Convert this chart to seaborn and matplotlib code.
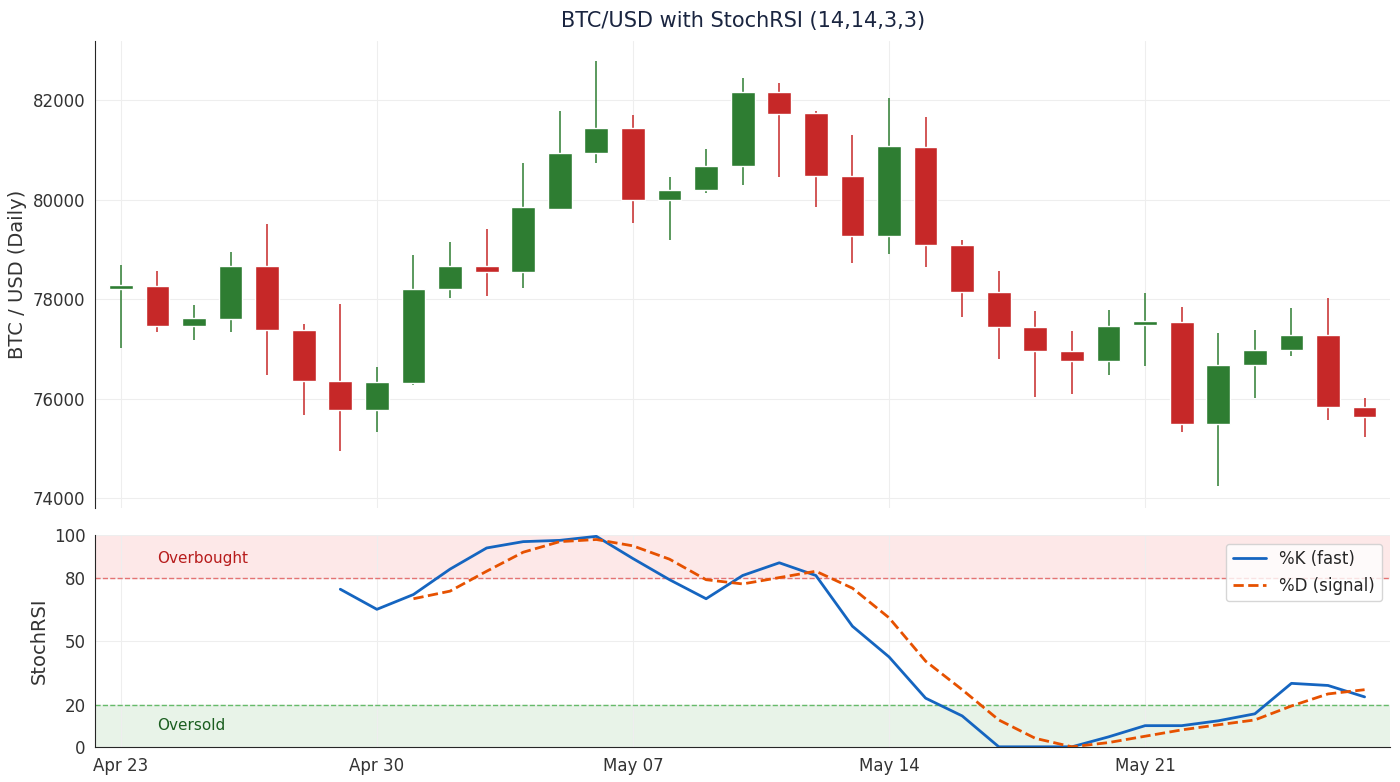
import pandas as pd
import numpy as np
import matplotlib.pyplot as plt
import seaborn as sns

dates = pd.date_range('2025-04-23', periods=35, freq='D')
opens = [78200, 78260, 77460, 77600, 78660, 77380, 76350, 75770, 76310, 78200, 78660, 78540,
         79810, 80950, 81440, 80000, 80190, 80670, 82160, 81740, 80470, 79270, 81060, 79090,
         78140, 77440, 76960, 76760, 77480, 77540, 75490, 76670, 76970, 77280, 75830]
closes = [78280, 77460, 77620, 78660, 77380, 76350, 75770, 76330, 78200, 78660, 78540, 79850,
          80950, 81440, 80000, 80190, 80670, 82160, 81720, 80470, 79270, 81080, 79090, 78140,
          77440, 76960, 76760, 77460, 77560, 75490, 76670, 76970, 77280, 75830, 75630]
highs = [78680, 78560, 77880, 78950, 79510, 77500, 77900, 76630, 78900, 79150, 79410, 80750,
         81780, 82800, 81700, 80450, 81030, 82440, 82340, 81780, 81300, 82040, 81660, 79190,
         78560, 77760, 77360, 77780, 78120, 77840, 77320, 77380, 77820, 78020, 76010]
lows = [77020, 77340, 77180, 77340, 76470, 75670, 74940, 75330, 76270, 78020, 78060, 78220,
        79790, 80750, 79530, 79200, 80130, 80290, 80450, 79850, 78720, 78920, 78640, 77640,
        76790, 76030, 76090, 76470, 76650, 75330, 74240, 76010, 76850, 75570, 75230]
k_fast = [np.nan] * 6 + [74.5, 65, 72, 84, 94, 97, 97.6, 99.5, 89, 79, 70, 81, 87, 81, 57, 42.5,
                         23, 14.6, 0, 0, 0, 4.7, 10, 10, 12.3, 15.6, 30, 29, 23.6]
d_signal = [np.nan] * 8 + [70, 73.6, 83, 92, 97, 98, 95, 88.7, 79, 77, 80, 83, 75, 61, 40.5,
                           27, 12.7, 4, 0, 2, 5, 8, 10.4, 12.7, 19.3, 25, 27]

up_c, dn_c = '#2e7d32', '#c62828'
sns.set_style('white')
fig, (ax, ax2) = plt.subplots(2, 1, figsize=(14, 7.82), dpi=100, sharex=True,
                              gridspec_kw={'height_ratios': [2.21, 1], 'hspace': 0.08})
fig.subplots_adjust(left=0.068, right=0.993, top=0.948, bottom=0.045)

x = np.arange(len(dates))
df = pd.DataFrame({'x': x, 'o': opens, 'c': closes, 'h': highs, 'l': lows})
df['up'] = df['c'] >= df['o']
for _, r in df.iterrows():
    col = up_c if r['up'] else dn_c
    ax.vlines(r['x'], r['l'], r['h'], color=col, lw=1.1, zorder=2)
    lo, hi = min(r['o'], r['c']), max(r['o'], r['c'])
    ax.bar(r['x'], max(hi - lo, 40), bottom=lo, width=0.65, color=col, zorder=3)

ax.set_ylim(73800, 83200)
ax.set_yticks([74000, 76000, 78000, 80000, 82000])
ax.set_ylabel('BTC / USD (Daily)', fontsize=14, color='#333333')
ax.set_title('BTC/USD with StochRSI (14,14,3,3)', fontsize=15, color='#1a2540', pad=10)
ax.grid(True, color='#eeeeee', lw=0.8)
sns.despine(ax=ax, bottom=True)
ax.tick_params(axis='x', length=0)
ax.tick_params(axis='y', labelsize=12, colors='#333333')

ax2.axhspan(80, 100, color='#fde8e8', zorder=0)
ax2.axhspan(0, 20, color='#e8f3e8', zorder=0)
ax2.axhline(80, color='#e57373', ls='--', lw=1)
ax2.axhline(20, color='#66bb6a', ls='--', lw=1)
ax2.text(1, 89, 'Overbought', color='#b71c1c', fontsize=11, va='center')
ax2.text(1, 10, 'Oversold', color='#1b5e20', fontsize=11, va='center')
sd = pd.DataFrame({'x': x, '%K (fast)': k_fast, '%D (signal)': d_signal})
sns.lineplot(data=sd, x='x', y='%K (fast)', ax=ax2, color='#1565c0', lw=2, label='%K (fast)')
sns.lineplot(data=sd, x='x', y='%D (signal)', ax=ax2, color='#e65100', lw=2, ls='--',
             label='%D (signal)')
ax2.set_ylim(0, 100)
ax2.set_yticks([0, 20, 50, 80, 100])
ax2.set_ylabel('StochRSI', fontsize=14, color='#333333')
ax2.set_xlabel('')
ax2.grid(True, color='#eeeeee', lw=0.8)
ax2.legend(loc='upper right', fontsize=12, frameon=True)
sns.despine(ax=ax2)
ticks = [0, 7, 14, 21, 28]
ax2.set_xticks(ticks)
ax2.set_xticklabels([dates[i].strftime('%b %d') for i in ticks])
ax2.tick_params(labelsize=12, colors='#333333')
ax2.set_xlim(-0.7, 34.7)

fig.savefig('out.png', dpi=100)
